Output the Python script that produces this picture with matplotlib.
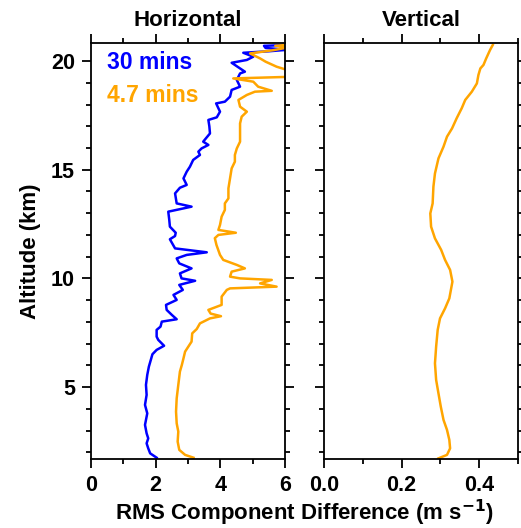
import matplotlib
matplotlib.use("Agg")
import matplotlib.pyplot as plt
from matplotlib.ticker import MultipleLocator

plt.rcParams['font.family'] = ['Liberation Sans', 'DejaVu Sans']
plt.rcParams['font.weight'] = 'bold'

# ---- data (altitude km, RMS difference m/s) ----
blue_alt = [1.75, 1.95, 2.18, 2.41, 2.64, 2.87, 3.26, 3.79, 4.18, 4.64, 5.10, 5.56, 5.94,
            6.25, 6.51, 6.71, 6.90, 7.17, 7.32, 7.63, 7.78, 8.01, 8.12, 8.32, 8.55, 8.78,
            9.01, 9.24, 9.47, 9.70, 9.89, 10.00, 10.23, 10.46, 10.69, 10.92, 11.08, 11.20,
            11.38, 11.80, 11.95, 12.10, 12.38, 12.70, 13.07, 13.30, 13.45, 13.91, 14.17,
            14.30, 14.60, 14.91, 15.14, 15.45, 15.68, 15.83, 15.98, 16.14, 16.29, 16.40,
            16.67, 17.00, 17.29, 17.41, 17.67, 18.05, 18.13, 18.36, 18.67, 18.82, 19.13,
            19.43, 19.51, 19.92, 20.05, 20.20, 20.38, 20.45, 20.52, 20.60, 20.70, 20.74]
blue_val = [2.03, 1.83, 1.77, 1.72, 1.77, 1.72, 1.67, 1.74, 1.67, 1.72, 1.70, 1.74, 1.79,
            1.85, 1.90, 2.03, 2.26, 2.08, 2.03, 2.03, 2.15, 2.19, 2.65, 2.50, 2.34, 2.32,
            2.65, 2.55, 2.84, 2.73, 3.22, 2.80, 2.75, 3.11, 2.73, 2.65, 2.96, 3.58,
            2.60, 2.44, 2.60, 2.62, 2.44, 2.42, 2.39, 3.11, 2.65, 2.60, 2.75,
            2.96, 2.86, 2.96, 3.06, 3.16, 3.37, 3.32, 3.42, 3.63, 3.47, 3.53,
            3.68, 3.66, 3.63, 3.89, 3.99, 3.87, 4.14, 4.30, 4.35, 4.61, 4.51,
            4.61, 4.76, 4.35, 4.82, 5.02, 4.71, 5.50, 6.10, 5.40, 5.35, 6.10]

orange_alt = [1.75, 1.88, 2.11, 2.49, 2.95, 3.33, 3.87, 4.48, 5.10, 5.71, 6.02, 6.32, 6.63,
              6.86, 7.09, 7.47, 7.67, 7.93, 8.16, 8.26, 8.38, 8.55, 8.78, 9.16, 9.47, 9.54,
              9.62, 9.77, 9.93, 10.00, 10.08, 10.31, 10.46, 10.62, 10.85, 11.08, 11.54,
              11.85, 12.00, 12.10, 12.23, 12.46, 12.84, 13.15, 13.45, 13.68, 14.14, 14.60,
              15.06, 15.37, 15.68, 15.98, 16.29, 16.60, 17.13, 17.44, 17.67, 17.90, 18.21,
              18.44, 18.59, 18.63, 18.82, 19.05, 19.20, 19.28, 19.62, 19.74, 19.97, 20.12,
              20.35, 20.50, 20.63, 20.70, 20.76]
orange_val = [3.17, 2.91, 2.73, 2.68, 2.70, 2.65, 2.63, 2.65, 2.70, 2.75, 2.81, 2.86, 2.91,
              3.01, 3.11, 3.13, 3.27, 3.37, 3.68, 4.02, 3.70, 3.63, 4.04, 4.04, 4.20, 4.30,
              5.74, 5.23, 5.59, 4.61, 4.30, 4.35, 4.76, 4.51, 4.09, 3.99, 3.88,
              3.83, 3.94, 4.48, 3.94, 3.99, 4.04, 4.14, 4.14, 4.25, 4.25, 4.30,
              4.35, 4.45, 4.45, 4.51, 4.61, 4.61, 4.61, 4.66, 4.82, 4.61, 4.56,
              4.82, 5.07, 5.59, 5.17, 5.02, 4.40, 6.30, 6.00, 5.74, 5.40, 5.23,
              4.92, 5.64, 6.10, 5.70, 6.20]

vert_alt = [1.72, 1.88, 2.18, 2.57, 3.03, 3.49, 4.10, 4.71, 5.33, 6.09, 6.86, 7.63, 8.16,
            8.62, 9.08, 9.85, 10.39, 10.85, 11.31, 11.84, 12.38, 12.99, 13.45, 14.22,
            14.83, 15.52, 16.06, 16.52, 16.90, 17.37, 17.83, 18.21, 18.59, 18.97, 19.36,
            19.66, 19.82, 20.12, 20.51, 20.74]
vert_val = [0.295, 0.317, 0.325, 0.323, 0.317, 0.308, 0.301, 0.295, 0.289, 0.286, 0.289,
            0.293, 0.299, 0.312, 0.323, 0.331, 0.325, 0.312, 0.302, 0.286, 0.276, 0.274,
            0.280, 0.282, 0.286, 0.295, 0.308, 0.317, 0.330, 0.342, 0.355, 0.364, 0.381,
            0.394, 0.398, 0.403, 0.411, 0.418, 0.428, 0.435]

titles = ["Horizontal", "Vertical"]
legend_labels = ["30 mins", "4.7 mins"]
BLUE = "#0000FF"
ORANGE = "#FFA500"

fig = plt.figure(figsize=(5.21, 5.28), dpi=100)
axL = fig.add_axes([91/521, 1-459/528, (285-91)/521, (459-43)/528])
axR = fig.add_axes([324/521, 1-459/528, (518-324)/521, (459-43)/528], sharey=axL)

axL.plot(blue_val, blue_alt, color=BLUE, lw=1.8)
axL.plot(orange_val, orange_alt, color=ORANGE, lw=1.8)
axR.plot(vert_val, vert_alt, color=ORANGE, lw=1.8)

axL.set_xlim(0, 6)
axR.set_xlim(0, 0.5)
axL.set_ylim(1.69, 20.83)

axL.xaxis.set_major_locator(MultipleLocator(2))
axL.xaxis.set_minor_locator(MultipleLocator(1))
axR.xaxis.set_minor_locator(MultipleLocator(0.1))
axR.set_xticks([0.0, 0.2, 0.4])
axR.set_xticklabels(["0.0", "0.2", "0.4"])
axL.yaxis.set_major_locator(MultipleLocator(5))
axL.yaxis.set_minor_locator(MultipleLocator(1))

for ax, t in zip([axL, axR], titles):
    ax.tick_params(which='both', direction='out', top=True, right=True, width=1.3,
                   labelsize=15.5, pad=5)
    ax.tick_params(which='major', length=6.5)
    ax.tick_params(which='minor', length=3.5)
    for s in ax.spines.values():
        s.set_linewidth(1.3)
    ax.set_title(t, fontsize=16, fontweight='bold', pad=12)
axR.tick_params(labelleft=False)

axL.set_ylabel("Altitude (km)", fontsize=16, fontweight='bold', labelpad=7)
fig.text((91+518)/2/521, 1-513/528, "RMS Component Difference (m s$^{\\mathbf{-1}}$)",
         ha='center', va='center', fontsize=16, fontweight='bold')

axL.text(107/521, 1-62.5/528, legend_labels[0], transform=fig.transFigure, color=BLUE,
         fontsize=16.5, fontweight='bold', va='center', ha='left')
axL.text(107/521, 1-95/528, legend_labels[1], transform=fig.transFigure, color=ORANGE,
         fontsize=16.5, fontweight='bold', va='center', ha='left')

fig.savefig("out.png", dpi=100)
